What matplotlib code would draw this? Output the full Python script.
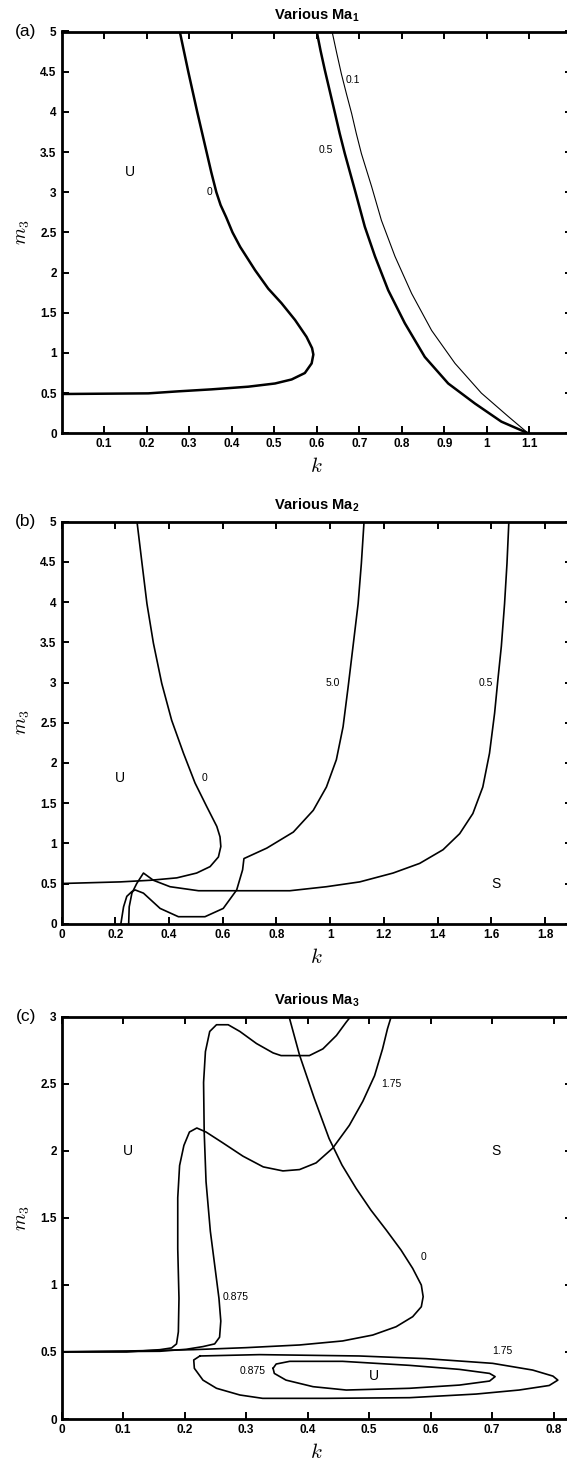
import matplotlib
matplotlib.use("Agg")
from matplotlib import pyplot as plt
from matplotlib.ticker import FormatStrFormatter

plt.rcParams['font.family'] = ['Liberation Sans', 'DejaVu Sans']
plt.rcParams['mathtext.fontset'] = 'custom'
plt.rcParams['mathtext.rm'] = 'Liberation Sans'
plt.rcParams['mathtext.bf'] = 'Liberation Sans:bold'

# ---- panel (a): various Ma1 ----
a_k_0 = [0.278, 0.298, 0.319, 0.341, 0.352, 0.364, 0.374, 0.387, 0.402, 0.420, 0.455,
         0.486, 0.517, 0.549, 0.576, 0.589, 0.592, 0.588, 0.572, 0.541, 0.502, 0.439,
         0.353, 0.274, 0.204, 0.0]
a_m_0 = [5.0, 4.5, 4.0, 3.5, 3.25, 3.0, 2.84, 2.69, 2.5, 2.32, 2.03,
         1.80, 1.62, 1.41, 1.20, 1.06, 0.98, 0.87, 0.75, 0.67, 0.62, 0.58,
         0.547, 0.522, 0.497, 0.489]
a_k_05 = [0.600, 0.609, 0.619, 0.631, 0.643, 0.654, 0.666, 0.678, 0.690, 0.713, 0.737,
          0.768, 0.807, 0.854, 0.909, 0.972, 1.034, 1.097]
a_m_05 = [5.0, 4.76, 4.52, 4.25, 3.98, 3.73, 3.48, 3.25, 3.02, 2.57, 2.20,
          1.78, 1.37, 0.95, 0.62, 0.37, 0.145, 0.0]
a_k_01 = [0.636, 0.647, 0.658, 0.670, 0.682, 0.693, 0.705, 0.729, 0.752, 0.784, 0.823,
          0.870, 0.925, 0.987, 1.050, 1.097]
a_m_01 = [5.0, 4.73, 4.47, 4.22, 3.98, 3.73, 3.48, 3.07, 2.65, 2.20, 1.74,
          1.28, 0.87, 0.50, 0.21, 0.0]
a_xticks = [0.1, 0.2, 0.3, 0.4, 0.5, 0.6, 0.7, 0.8, 0.9, 1.0, 1.1]

# ---- panel (b): various Ma2 ----
b_k_0 = [0.281, 0.299, 0.318, 0.342, 0.373, 0.410, 0.454, 0.497, 0.540, 0.578, 0.590,
         0.593, 0.584, 0.553, 0.503, 0.429, 0.330, 0.219, 0.0]
b_m_0 = [5.0, 4.50, 3.98, 3.49, 2.99, 2.53, 2.12, 1.75, 1.46, 1.21, 1.08,
         0.96, 0.83, 0.71, 0.63, 0.57, 0.54, 0.52, 0.50]
b_k_50 = [0.221, 0.231, 0.243, 0.262, 0.274, 0.305, 0.367, 0.435, 0.534, 0.602, 0.652,
          0.674, 0.679, 0.764, 0.863, 0.937, 0.986, 1.023, 1.048, 1.067, 1.085, 1.104,
          1.116, 1.126]
b_m_50 = [0.0, 0.21, 0.34, 0.40, 0.42, 0.38, 0.19, 0.087, 0.087, 0.19, 0.42,
          0.67, 0.81, 0.94, 1.14, 1.41, 1.70, 2.04, 2.45, 2.95, 3.45, 3.98,
          4.48, 5.0]
b_k_05 = [0.250, 0.252, 0.262, 0.280, 0.305, 0.342, 0.404, 0.510, 0.689, 0.850, 0.986,
          1.110, 1.234, 1.333, 1.420, 1.482, 1.531, 1.568, 1.593, 1.612, 1.624, 1.637,
          1.649, 1.658, 1.665]
b_m_05 = [0.0, 0.21, 0.38, 0.50, 0.63, 0.54, 0.46, 0.41, 0.41, 0.41, 0.46,
          0.52, 0.63, 0.75, 0.92, 1.12, 1.37, 1.70, 2.12, 2.62, 3.03, 3.45,
          3.98, 4.48, 5.0]
b_xticks = [0, 0.2, 0.4, 0.6, 0.8, 1.0, 1.2, 1.4, 1.6, 1.8]

# ---- panel (c): various Ma3 ----
c_k_0 = [0.370, 0.387, 0.411, 0.435, 0.456, 0.479, 0.503, 0.528, 0.552, 0.571, 0.585,
         0.588, 0.585, 0.571, 0.544, 0.506, 0.457, 0.387, 0.300, 0.214, 0.105, 0.0]
c_m_0 = [3.0, 2.714, 2.391, 2.092, 1.894, 1.720, 1.558, 1.409, 1.260, 1.123, 0.999,
         0.912, 0.837, 0.763, 0.688, 0.626, 0.582, 0.552, 0.532, 0.517, 0.507, 0.502]
c_k_175 = [0.0, 0.106, 0.160, 0.179, 0.187, 0.190, 0.191, 0.189, 0.189, 0.192, 0.199,
           0.208, 0.220, 0.235, 0.262, 0.295, 0.328, 0.360, 0.387, 0.414, 0.441,
           0.468, 0.490, 0.509, 0.522, 0.530, 0.536]
c_m_175 = [0.50, 0.50, 0.517, 0.53, 0.56, 0.65, 0.90, 1.27, 1.65, 1.89, 2.04,
           2.14, 2.17, 2.14, 2.06, 1.96, 1.88, 1.85, 1.86, 1.91, 2.02,
           2.19, 2.37, 2.56, 2.76, 2.91, 3.0]
c_k_0875 = [0.0, 0.160, 0.203, 0.230, 0.249, 0.257, 0.259, 0.256, 0.249, 0.242, 0.235,
            0.232, 0.231, 0.234, 0.241, 0.252, 0.271, 0.290, 0.317, 0.344, 0.357,
            0.403, 0.425, 0.447, 0.463, 0.470]
c_m_0875 = [0.50, 0.505, 0.52, 0.54, 0.56, 0.61, 0.73, 0.90, 1.15, 1.40, 1.77,
            2.14, 2.51, 2.74, 2.89, 2.94, 2.94, 2.89, 2.80, 2.73, 2.71,
            2.71, 2.76, 2.86, 2.96, 3.0]
c_loop_k_175 = [0.225, 0.322, 0.484, 0.593, 0.701, 0.766, 0.799, 0.807, 0.793, 0.744,
                0.674, 0.566, 0.430, 0.327, 0.290, 0.252, 0.230, 0.216, 0.215, 0.225]
c_loop_m_175 = [0.47, 0.48, 0.47, 0.45, 0.415, 0.365, 0.32, 0.29, 0.25, 0.216,
                0.186, 0.159, 0.154, 0.154, 0.179, 0.229, 0.29, 0.378, 0.44, 0.47]
c_loop_k_0875 = [0.344, 0.349, 0.371, 0.457, 0.566, 0.647, 0.696, 0.705, 0.696, 0.647,
                 0.566, 0.463, 0.409, 0.365, 0.346, 0.344]
c_loop_m_0875 = [0.378, 0.41, 0.43, 0.43, 0.40, 0.37, 0.34, 0.316, 0.283, 0.253,
                 0.229, 0.216, 0.241, 0.29, 0.34, 0.378]
c_xticks = [0, 0.1, 0.2, 0.3, 0.4, 0.5, 0.6, 0.7, 0.8]

fig = plt.figure(figsize=(5.67, 14.64), dpi=100)
W = 567.0
H = 1464.0
left = 61.5 / W
width = (572 - 61.5) / W

ax1 = fig.add_axes([left, 1 - 433.3 / H, width, (433.3 - 31.5) / H])
ax2 = fig.add_axes([left, 1 - 923.7 / H, width, (923.7 - 521.7) / H])
ax3 = fig.add_axes([left, 1 - 1419 / H, width, (1419 - 1016.7) / H])


def style(ax, title, tag, xticks, xmax, ymax):
    ax.set_xlim(0, xmax)
    ax.set_ylim(0, ymax)
    ax.set_xticks(xticks)
    yt = [i * 0.5 for i in range(int(ymax * 2) + 1)]
    ax.set_yticks(yt)
    ax.xaxis.set_major_formatter(FormatStrFormatter('%g'))
    ax.yaxis.set_major_formatter(FormatStrFormatter('%g'))
    ax.tick_params(direction='in', length=5, width=1.4, top=True, right=True,
                   labelsize=8.5, pad=3.5)
    for lab in ax.get_xticklabels() + ax.get_yticklabels():
        lab.set_fontweight('bold')
    for s in ax.spines.values():
        s.set_linewidth(2.0)
    ax.set_title(title, fontsize=10.5, fontweight='bold', pad=9)
    ax.set_xlabel('$k$', fontsize=15, math_fontfamily='cm', labelpad=5)
    ax.set_ylabel('$m_3$', fontsize=14, math_fontfamily='cm', labelpad=6)
    ax.text(-0.05, 1.0, tag, transform=ax.transAxes, fontsize=12.5,
            ha='right', va='center')


# (a)
ax1.plot(a_k_0, a_m_0, color='black', lw=1.8)
ax1.plot(a_k_05, a_m_05, color='black', lw=1.8)
ax1.plot(a_k_01, a_m_01, color='black', lw=0.8)
ax1.text(0.161, 3.25, 'U', fontsize=10, ha='center', va='center')
ax1.text(0.347, 3.0, '0', fontsize=7.5, ha='center', va='center')
ax1.text(0.621, 3.53, '0.5', fontsize=7.5, ha='center', va='center')
ax1.text(0.686, 4.40, '0.1', fontsize=7.5, ha='center', va='center')
style(ax1, r'Various Ma$_{\mathbf{1}}$', '(a)', a_xticks, 1.2, 5)

# (b)
ax2.plot(b_k_0, b_m_0, color='black', lw=1.2)
ax2.plot(b_k_50, b_m_50, color='black', lw=1.2)
ax2.plot(b_k_05, b_m_05, color='black', lw=1.2)
ax2.text(0.219, 1.81, 'U', fontsize=10, ha='center', va='center')
ax2.text(1.616, 0.49, 'S', fontsize=10, ha='center', va='center')
ax2.text(0.532, 1.81, '0', fontsize=7.5, ha='center', va='center')
ax2.text(1.011, 3.0, '5.0', fontsize=7.5, ha='center', va='center')
ax2.text(1.578, 3.0, '0.5', fontsize=7.5, ha='center', va='center')
style(ax2, r'Various Ma$_{\mathbf{2}}$', '(b)', b_xticks, 1.9, 5)

# (c)
ax3.plot(c_k_0, c_m_0, color='black', lw=1.2)
ax3.plot(c_k_175, c_m_175, color='black', lw=1.2)
ax3.plot(c_k_0875, c_m_0875, color='black', lw=1.2)
ax3.plot(c_loop_k_175, c_loop_m_175, color='black', lw=1.2)
ax3.plot(c_loop_k_0875, c_loop_m_0875, color='black', lw=1.2)
ax3.text(0.108, 2.0, 'U', fontsize=10, ha='center', va='center')
ax3.text(0.706, 2.0, 'S', fontsize=10, ha='center', va='center')
ax3.text(0.508, 0.323, 'U', fontsize=10, ha='center', va='center')
ax3.text(0.537, 2.50, '1.75', fontsize=7.5, ha='center', va='center')
ax3.text(0.589, 1.205, '0', fontsize=7.5, ha='center', va='center')
ax3.text(0.283, 0.907, '0.875', fontsize=7.5, ha='center', va='center')
ax3.text(0.717, 0.507, '1.75', fontsize=7.5, ha='center', va='center')
ax3.text(0.310, 0.358, '0.875', fontsize=7.5, ha='center', va='center')
style(ax3, r'Various Ma$_{\mathbf{3}}$', '(c)', c_xticks, 0.83, 3)

fig.savefig('out.png', dpi=100)
